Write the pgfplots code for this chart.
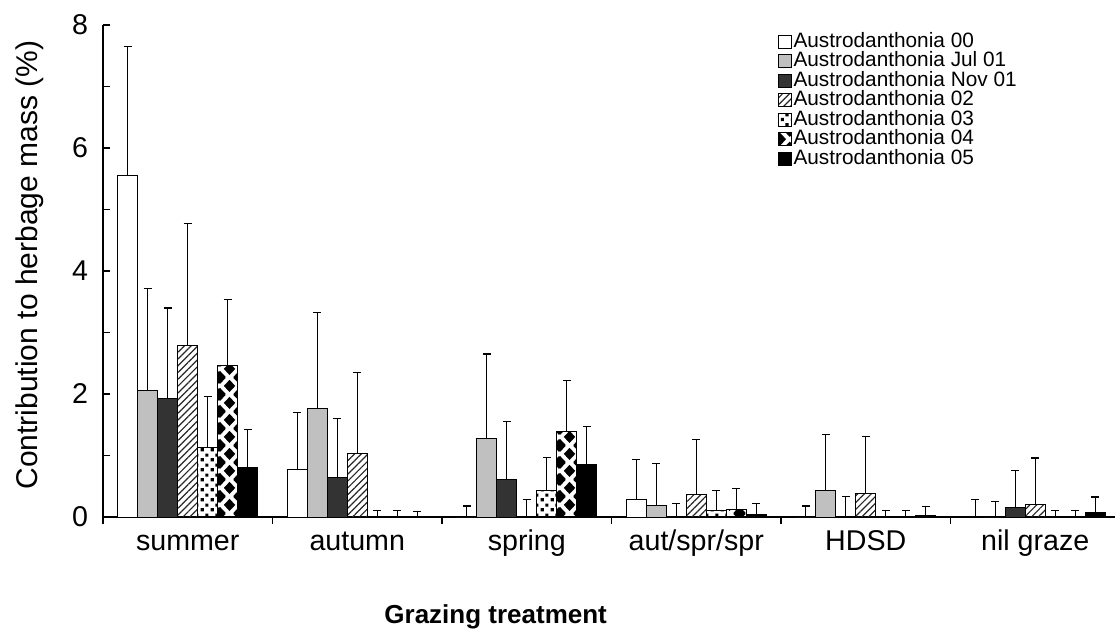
\documentclass[border=0pt]{standalone}
\usepackage{fontspec}
\setmainfont{Liberation Sans}
\usepackage{pgfplots}
\usepackage{pgfplotstable}
\pgfplotsset{compat=1.18}
\usetikzlibrary{patterns,patterns.meta}

% small square dots
\pgfdeclarepatternformonly{sqdots}{\pgfpointorigin}{\pgfqpoint{5pt}{5pt}}{\pgfqpoint{5pt}{5pt}}{%
  \pgfpathrectangle{\pgfqpoint{0.4pt}{0.4pt}}{\pgfqpoint{1.7pt}{1.7pt}}%
  \pgfpathrectangle{\pgfqpoint{2.9pt}{2.9pt}}{\pgfqpoint{1.7pt}{1.7pt}}%
  \pgfusepath{fill}}
% black diamonds
\newcommand\dia[2]{%
  \pgfpathmoveto{\pgfqpoint{#1pt}{\dimexpr#2pt+3.2pt\relax}}%
  \pgfpathlineto{\pgfqpoint{\dimexpr#1pt+3pt\relax}{#2pt}}%
  \pgfpathlineto{\pgfqpoint{#1pt}{\dimexpr#2pt-3.2pt\relax}}%
  \pgfpathlineto{\pgfqpoint{\dimexpr#1pt-3pt\relax}{#2pt}}%
  \pgfpathclose}
\pgfdeclarepatternformonly{diamonds}{\pgfpointorigin}{\pgfqpoint{10pt}{8.5pt}}{\pgfqpoint{10pt}{8.5pt}}{%
  \dia{5}{4.25}\dia{0}{0}\dia{10}{0}\dia{0}{8.5}\dia{10}{8.5}%
  \pgfusepath{fill}}

\definecolor{lgray}{HTML}{C0C0C0}
\definecolor{dgray}{HTML}{333333}

\pgfplotstableread{
x y e
1 5.55 2.10
2 0.78 0.92
3 0 0.18
4 0.29 0.64
5 0 0.18
6 0.01 0.28
}\tA
\pgfplotstableread{
x y e
1 2.06 1.66
2 1.76 1.57
3 1.28 1.37
4 0.18 0.69
5 0.43 0.91
6 0 0.255
}\tB
\pgfplotstableread{
x y e
1 1.92 1.48
2 0.64 0.96
3 0.61 0.94
4 0 0.22
5 0.01 0.32
6 0.16 0.59
}\tC
\pgfplotstableread{
x y e
1 2.79 1.98
2 1.03 1.32
3 0 0.28
4 0.36 0.90
5 0.385 0.925
6 0.21 0.75
}\tD
\pgfplotstableread{
x y e
1 1.13 0.83
2 0 0.11
3 0.43 0.54
4 0.10 0.33
5 0 0.10
6 0 0.10
}\tE
\pgfplotstableread{
x y e
1 2.47 1.07
2 0 0.11
3 1.39 0.83
4 0.13 0.33
5 0 0.10
6 0 0.10
}\tF
\pgfplotstableread{
x y e
1 0.81 0.61
2 0 0.09
3 0.85 0.62
4 0.04 0.18
5 0.02 0.15
6 0.08 0.245
}\tG

\begin{document}
\begin{tikzpicture}
\useasboundingbox (-51.5pt,-57.5pt) rectangle (506pt,258.5pt);
\begin{axis}[
  scale only axis, width=506pt, height=246pt,
  xmin=0.5, xmax=6.4705, ymin=0, ymax=8,
  axis lines*=left, clip=false,
  axis line style={line width=0.6pt},
  ybar=0pt, bar width=10pt,
  xtick={1,...,6},
  xticklabels={summer,autumn,spring,aut/spr/spr,HDSD,nil graze},
  major x tick style={draw=none},
  minor xtick={0.5,1.5,...,6.5},
  minor x tick style={yshift=-3.5pt},
  ytick={0,2,4,6,8}, minor ytick={1,3,5,7},
  tick align=inside,
  major tick length=3.5pt, minor tick length=3.5pt,
  tick style={line width=0.6pt, black},
  tick label style={font=\fontsize{14.3}{16}\selectfont},
  /pgf/number format/assume math mode=true,
  xticklabel style={anchor=base, yshift=-16.5pt},
  yticklabel style={xshift=-4pt},
  ylabel={Contribution to herbage mass (\%)},
  ylabel style={at={(axis description cs:-0.072,0.512)}, anchor=center, font=\fontsize{15}{17}\selectfont},
  xlabel={Grazing treatment},
  xlabel style={at={(axis description cs:0.388,-0.203)}, anchor=center, font=\bfseries\fontsize{13}{15}\selectfont},
  legend image code/.code={\draw[#1, line width=0.5pt] (0pt,-3.25pt) rectangle (6.5pt,3.25pt);},
  legend style={at={(axis description cs:0.661,0.995)}, anchor=north west, draw=none, fill=none,
    font=\fontsize{10.4}{11}\selectfont, row sep=0pt, column sep=0.6pt,
    nodes={inner sep=0pt, text height=7.6pt, text depth=2.15pt}},
  legend cell align=left,
  every axis plot/.append style={draw=black, line width=0.5pt},
  error bars/y dir=plus, error bars/y explicit,
  error bars/error mark=-,
  error bars/error bar style={line width=0.6pt, black},
  error bars/error mark options={rotate=90, line width=0.6pt, mark size=2pt, black},
]
\addplot[fill=white] table[x=x,y=y,y error=e]{\tA};
\addlegendentry{Austrodanthonia 00}
\addplot[fill=lgray] table[x=x,y=y,y error=e]{\tB};
\addlegendentry{Austrodanthonia Jul 01}
\addplot[fill=dgray] table[x=x,y=y,y error=e]{\tC};
\addlegendentry{Austrodanthonia Nov 01}
\addplot[pattern={Lines[angle=45, distance=2.4pt, line width=0.6pt]}, pattern color=black!85] table[x=x,y=y,y error=e]{\tD};
\addlegendentry{Austrodanthonia 02}
\addplot[pattern=sqdots] table[x=x,y=y,y error=e]{\tE};
\addlegendentry{Austrodanthonia 03}
\addplot[pattern=diamonds] table[x=x,y=y,y error=e]{\tF};
\addlegendentry{Austrodanthonia 04}
\addplot[fill=black] table[x=x,y=y,y error=e]{\tG};
\addlegendentry{Austrodanthonia 05}
\end{axis}
\end{tikzpicture}
\end{document}
